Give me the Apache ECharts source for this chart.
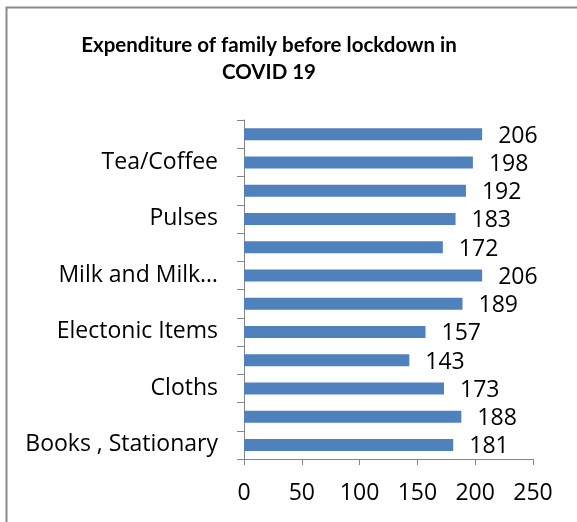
<!DOCTYPE html>
<html>
<head>
<meta charset="utf-8">
<script src="https://cdn.jsdelivr.net/npm/echarts@6/dist/echarts.min.js"></script>
<style>
  html, body { margin: 0; padding: 0; background: #fff; }
  #main { width: 577px; height: 522px; }
</style>
</head>
<body>
<div id="main"></div>
<script>
"use strict";
// categories from bottom to top
let categories = ['Books , Stationary', 'Cereals', 'Cloths', 'Cosmetics', 'Electonic Items', 'Fruits',
    'Milk and Milk Products', 'Oil', 'Pulses', 'Spices', 'Tea/Coffee', 'Vegetables'];
let expenditure = [181, 188, 173, 143, 157, 189, 206, 172, 183, 192, 198, 206];
let xTicks = [0, 50, 100, 150, 200, 250];

let myChart = echarts.init(document.getElementById('main'));
let font = '"Open Sans", Lato, sans-serif';

let option = {
    backgroundColor: '#fff',
    animation: false,
    title: {
        text: 'Expenditure of family before lockdown in\nCOVID 19',
        left: 264,
        top: 27,
        textAlign: 'center',
        textStyle: {
            fontFamily: 'Lato, sans-serif',
            fontWeight: 'bold',
            fontSize: 20.5,
            lineHeight: 27,
            color: '#000'
        }
    },
    graphic: [{
        type: 'rect',
        shape: { x: 6.5, y: 7.5, width: 620, height: 620 },
        style: { fill: 'none', stroke: '#8a8a8a', lineWidth: 2 },
        silent: true
    }],
    grid: {
        left: 244,
        top: 120,
        width: 289,
        height: 339
    },
    xAxis: {
        type: 'value',
        min: xTicks[0],
        max: xTicks[xTicks.length - 1],
        interval: 50,
        splitLine: { show: false },
        axisLine: { show: true, lineStyle: { color: '#868686', width: 1 } },
        axisTick: { show: true, length: 6, lineStyle: { color: '#868686' } },
        axisLabel: {
            margin: 23,
            fontFamily: font,
            fontSize: 23,
            color: '#000'
        }
    },
    yAxis: {
        type: 'category',
        data: categories,
        axisLine: { show: true, lineStyle: { color: '#868686', width: 1 } },
        axisTick: { show: true, interval: 0, length: 7, lineStyle: { color: '#868686' } },
        axisLabel: {
            interval: 1,
            margin: 26,
            fontFamily: font,
            fontSize: 23,
            color: '#000',
            formatter: function (v) {
                return v.length > 18 ? v.slice(0, 13) + '…' : v;
            }
        }
    },
    series: [{
        type: 'bar',
        data: expenditure,
        barWidth: 12,
        itemStyle: { color: '#4f81bd' },
        label: {
            show: true,
            position: 'right',
            distance: 16,
            fontFamily: font,
            fontSize: 23,
            color: '#000',
            offset: [0, 2]
        }
    }]
};
myChart.setOption(option);
</script>
</body>
</html>
